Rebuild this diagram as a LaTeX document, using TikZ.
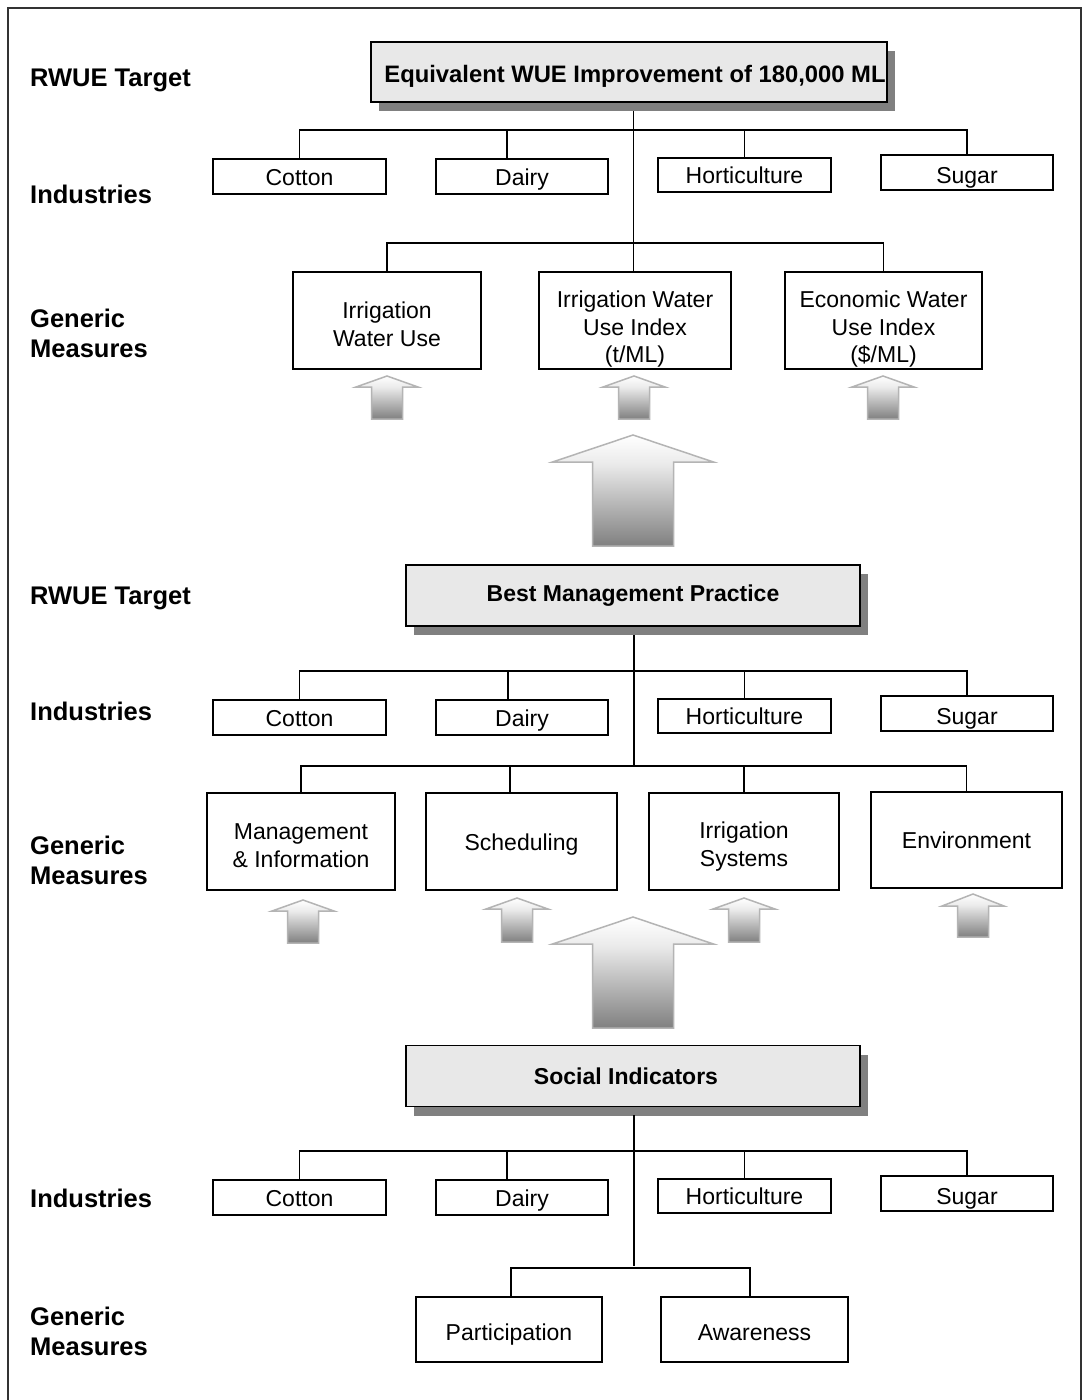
\documentclass[tikz,border=0pt]{standalone}
\usepackage{fontspec}
\setmainfont{Liberation Sans}
\usetikzlibrary{shadows}

\definecolor{headfill}{HTML}{E8E8E8}
\definecolor{shadowgray}{HTML}{808080}
\definecolor{arrowedge}{HTML}{B4B4B4}
\definecolor{framegray}{HTML}{333333}

% light at the tip, darkening towards the base of the block arrows
\pgfdeclareverticalshading{arrowfill}{100bp}{color(0bp)=(shadowgray); color(25bp)=(shadowgray); color(62bp)=(black!8); color(75bp)=(white); color(100bp)=(white)}

% upward block arrow: x, tip y, wing y, base y, head half width, shaft half width
\newcommand{\uparrowshape}[6]{%
  \path[blockarrow] (#1,#2) -- (#1+#5,#3) -- (#1+#6,#3) -- (#1+#6,#4)
    -- (#1-#6,#4) -- (#1-#6,#3) -- (#1-#5,#3) -- cycle;}

% struts beside the text block (its baseline is that of the last line):
% \extralines = number of lines above the last one, \textdrop lowers the text
\def\textdrop{0pt}
\def\extralines{0}
\newcommand{\topstrut}{\vrule width 0pt height \dimexpr 0.72em+27.5pt*\extralines+\textdrop*2\relax depth 0pt}
\newcommand{\botstrut}{\vrule width 0pt height 0pt depth 0.21em}

\begin{document}
\begin{tikzpicture}[
  x=1pt, y=-1pt,
  drop/.code={\def\textdrop{#1}},
  lines/.code={\def\extralines{#1}},
  link/.style={line width=1.8pt, draw=black},
  plainbox/.style={draw, line width=1.8pt, inner sep=0pt, align=center,
    font=\fontsize{23}{27.5}\selectfont,
    execute at begin node=\topstrut, execute at end node=\botstrut},
  indbox/.style={plainbox, minimum width=173pt, minimum height=35pt, drop=3.3pt},
  genbox/.style={plainbox, minimum height=97pt},
  headbox/.style={plainbox, fill=headfill, minimum height=61pt,
    font=\fontsize{23}{27.5}\selectfont\bfseries,
    drop shadow={shadow xshift=8pt, shadow yshift=-9pt, fill=shadowgray, opacity=1}},
  rowlabel/.style={anchor=west, inner sep=0pt, align=left,
    font=\fontsize{25.5}{30}\selectfont\bfseries},
  blockarrow/.style={draw=arrowedge, line width=1.5pt, shading=arrowfill, line join=miter},
]
\useasboundingbox (0,0) rectangle (1082,1400);
\fill[white] (0,0) rectangle (1082,1400);
\draw[framegray, line width=2pt] (8,1410) -- (8,8) -- (1081,8) -- (1081,1410);

% ---------------- row labels ----------------
\node[rowlabel] (tgt1) at (30,80) {RWUE Target};
\node[rowlabel] (ind1) at (30,194) {Industries};
\node[rowlabel] (gm1) at (30,333) {Generic\\Measures};
\node[rowlabel] (tgt2) at (30,598) {RWUE Target};
\node[rowlabel] (ind2) at (30,711) {Industries};
\node[rowlabel] (gm2) at (30,860) {Generic\\Measures};
\node[rowlabel] (ind3) at (30,1198) {Industries};
\node[rowlabel] (gm3) at (30,1331) {Generic\\Measures};

% ---------------- section 1 ----------------
\node[headbox, minimum width=516pt, minimum height=60pt, drop=4.5pt,
  font=\fontsize{23.8}{27.5}\selectfont\bfseries] (wue) at (629,72)
  {\hspace*{12pt}Equivalent WUE Improvement of 180,000 ML};

\node[indbox] (cot1) at (299.5,176.5) {Cotton};
\node[indbox, minimum width=172pt] (dai1) at (522,176.5) {Dairy};
\node[indbox, minimum height=34pt, drop=2.6pt] (hor1) at (744.5,175) {Horticulture};
\node[indbox, minimum width=172pt, drop=4.8pt] (sug1) at (967,172.5) {Sugar};

\node[genbox, minimum width=188pt, lines=1, drop=6pt] (iwu) at (387,320.5) {Irrigation\\Water Use};
\node[genbox, minimum width=192pt, lines=2, drop=9pt] (iwui) at (635,320.5) {Irrigation Water\\Use Index\\(t/ML)};
\node[genbox, minimum width=197pt, lines=2, drop=9pt] (ewui) at (883.5,320.5) {Economic Water\\Use Index\\(\$/ML)};

\coordinate (t1) at (633.5,111);
\coordinate (j1) at (633.5,130);
\coordinate (j2) at (633.5,243);
\draw[link] (t1) -- (t1 |- iwui.north);
\draw[link] (cot1.north) |- (j1) -| (sug1.north);
\draw[link] ([xshift=-15pt]dai1.north) -- ([xshift=-15pt]dai1.north |- j1);
\draw[link] (hor1.north) -- (hor1.north |- j1);
\draw[link] (iwu.north) |- (j2) -| (ewui.north);

\uparrowshape{387}{376}{387}{419}{31}{15.5}
\uparrowshape{634}{376}{387}{419}{31}{15.5}
\uparrowshape{883}{376}{387}{419}{31}{15.5}
\uparrowshape{633}{435}{462}{546}{80.5}{40.5}

% ---------------- section 2 ----------------
\node[headbox, minimum width=454pt, drop=0.3pt] (bmp) at (633,595.5) {Best Management Practice};

\node[indbox] (cot2) at (299.5,717.5) {Cotton};
\node[indbox, minimum width=172pt] (dai2) at (522,717.5) {Dairy};
\node[indbox, minimum height=34pt, drop=2.6pt] (hor2) at (744.5,716) {Horticulture};
\node[indbox, minimum width=172pt, drop=4.8pt] (sug2) at (967,713.5) {Sugar};

\node[genbox, minimum width=188pt, lines=1, drop=6pt] (mai) at (301,841.5) {Management\\\& Information};
\node[genbox, minimum width=191pt, drop=3pt] (sch) at (521.5,841.5) {Scheduling};
\node[genbox, minimum width=190pt, lines=1, drop=5pt] (irs) at (744,841.5) {Irrigation\\Systems};
\node[genbox, minimum width=191pt, minimum height=96pt, drop=2.5pt] (env) at (966.5,840) {Environment};

\coordinate (t2) at (634,635);
\coordinate (j3) at (634,671);
\coordinate (j4) at (634,766);
\draw[link] (t2) -- (j4);
\draw[link] (cot2.north) |- (j3) -| (sug2.north);
\draw[link] ([xshift=-14pt]dai2.north) -- ([xshift=-14pt]dai2.north |- j3);
\draw[link] (hor2.north) -- (hor2.north |- j3);
\draw[link] (mai.north) |- (j4) -| (env.north);
\draw[link] ([xshift=-11.5pt]sch.north) -- ([xshift=-11.5pt]sch.north |- j4);
\draw[link] (irs.north) -- (irs.north |- j4);

\uparrowshape{303}{900}{911}{943}{31}{15.5}
\uparrowshape{517}{898}{909}{942}{31}{15.5}
\uparrowshape{744}{898}{909}{942}{31}{15.5}
\uparrowshape{973}{894}{906}{937}{31}{15.5}
\uparrowshape{633}{917}{944}{1028}{80.5}{40.5}

% ---------------- section 3 ----------------
\node[headbox, minimum width=454pt, drop=2.8pt] (soc) at (633,1076) {Social Indicators\hspace*{14pt}};

\node[indbox] (cot3) at (299.5,1197.5) {Cotton};
\node[indbox, minimum width=172pt] (dai3) at (522,1197.5) {Dairy};
\node[indbox, minimum height=34pt, drop=2.6pt] (hor3) at (744.5,1196) {Horticulture};
\node[indbox, minimum width=172pt, drop=4.8pt] (sug3) at (967,1193.5) {Sugar};

\node[plainbox, minimum width=186pt, minimum height=65pt, drop=5pt] (par) at (509,1329.5) {Participation};
\node[plainbox, minimum width=187pt, minimum height=65pt, drop=5.5pt] (awa) at (754.5,1329.5) {Awareness};

\coordinate (t3) at (634,1115);
\coordinate (j5) at (634,1151);
\coordinate (j6) at (634,1268);
\draw[link] (t3) -- ([yshift=2pt]j6);
\draw[link] (cot3.north) |- (j5) -| (sug3.north);
\draw[link] ([xshift=-15pt]dai3.north) -- ([xshift=-15pt]dai3.north |- j5);
\draw[link] (hor3.north) -- (hor3.north |- j5);
\draw[link] ([xshift=2pt]par.north) |- (j6) -| ([xshift=-4.5pt]awa.north);
\end{tikzpicture}
\end{document}
